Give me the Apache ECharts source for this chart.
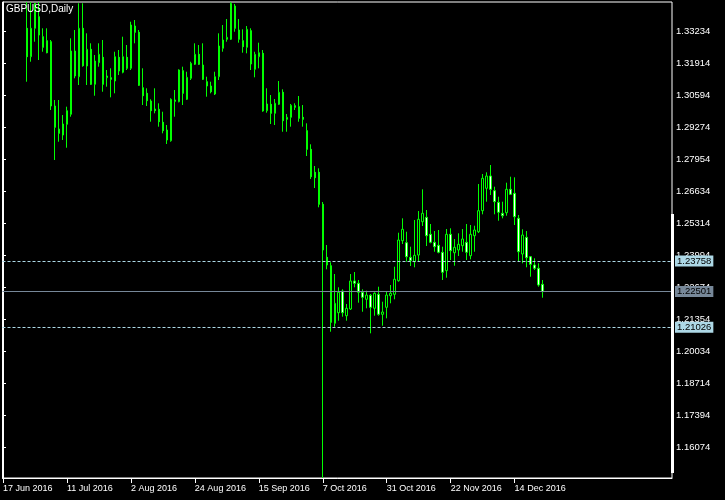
<!DOCTYPE html>
<html>
<head>
<meta charset="utf-8">
<script src="https://cdn.jsdelivr.net/npm/echarts@6/dist/echarts.min.js"></script>
<style>
html,body{margin:0;padding:0;background:#000;}
#chart{width:725px;height:500px;}
</style>
</head>
<body>
<div id="chart"></div>
<script>
// Trading days (Mon-Fri) shown on the time axis, per month of 2016
const monthNames = ['Jun','Jul','Aug','Sep','Oct','Nov','Dec'];
const monthDays = [
  [17,20,21,22,23,24,27,28,29,30],
  [1,4,5,6,7,8,11,12,13,14,15,18,19,20,21,22,25,26,27,28,29],
  [1,2,3,4,5,8,9,10,11,12,15,16,17,18,19,22,23,24,25,26,29,30,31],
  [1,2,5,6,7,8,9,12,13,14,15,16,19,20,21,22,23,26,27,28,29,30],
  [3,4,5,6,7,10,11,12,13,14,17,18,19,20,21,24,25,26,27,28,31],
  [1,2,3,4,7,8,9,10,11,14,15,16,17,18,21,22,23,24,25,28,29,30],
  [1,2,5,6,7,8,9,12,13,14,15,16,19,20,21,22,23]
];
const dates = [];
monthDays.forEach((days, m) => days.forEach(d => dates.push(d + ' ' + monthNames[m] + ' 2016')));

// x-axis tick labels (every 16 bars)
const xTickLabels = ['17 Jun 2016','11 Jul 2016','2 Aug 2016','24 Aug 2016','15 Sep 2016','7 Oct 2016','31 Oct 2016','22 Nov 2016','14 Dec 2016'];
// y-axis tick labels
const yTicks = [1.16074,1.17394,1.18714,1.20034,1.21354,1.22674,1.23994,1.25314,1.26634,1.27954,1.29274,1.30594,1.31914,1.33234];

// Price levels
const levelHigh = 1.23758;
const levelLow = 1.21026;
const bidPrice = 1.22501;

// Daily GBPUSD candles, 27 Jun 2016 .. 23 Dec 2016
const opens = [
1.33357,1.32185,1.33357,1.33835,1.33010,1.32845,1.32804,1.30152,1.29203,1.28955,
1.29397,1.29809,1.32420,1.31360,1.33357,1.31802,1.32490,1.31047,1.31938,1.32160,
1.31319,1.31319,1.31183,1.32160,1.31542,1.32160,1.31707,1.33452,1.33192,1.30906,
1.30675,1.30358,1.30028,1.30015,1.29479,1.29162,1.28720,1.30399,1.30329,1.31608,
1.30428,1.31294,1.31872,1.32284,1.31843,1.31154,1.30977,1.30647,1.31360,1.32532,
1.32903,1.32903,1.34277,1.33287,1.32845,1.32573,1.33258,1.31665,1.32185,1.32325,
1.29958,1.30222,1.29850,1.30222,1.30717,1.29603,1.29685,1.30164,1.30123,1.29685,
1.29133,1.28365,1.27417,1.27417,1.26097,1.23910,1.23564,1.21188,1.21625,1.22520,
1.21501,1.21778,1.22933,1.22838,1.22467,1.22178,1.22343,1.21807,1.22384,1.21559,
1.21848,1.22326,1.22384,1.22945,1.24595,1.24513,1.23910,1.23729,1.24005,1.25379,
1.25560,1.24859,1.24529,1.24405,1.24117,1.23358,1.24859,1.24100,1.24212,1.24389,
1.24529,1.23976,1.24801,1.24966,1.25833,1.26757,1.27264,1.26658,1.26179,1.25725,
1.25750,1.26715,1.26550,1.25519,1.24047,1.24735,1.23935,1.23593,1.23457,1.22797
];
const highs = [
1.34440,1.34440,1.34388,1.34440,1.33357,1.33357,1.32874,1.30399,1.30399,1.29780,
1.30123,1.32944,1.33287,1.34388,1.34388,1.33150,1.32738,1.32255,1.32738,1.32874,
1.31637,1.31707,1.32391,1.32462,1.33010,1.32668,1.33629,1.33699,1.33287,1.31707,
1.30882,1.30428,1.30882,1.30263,1.29916,1.29368,1.30469,1.30812,1.31665,1.31773,
1.31566,1.31979,1.32738,1.32668,1.32738,1.31360,1.31154,1.31566,1.33150,1.33493,
1.33740,1.34440,1.34359,1.33740,1.33315,1.33452,1.33357,1.32391,1.32763,1.32462,
1.30882,1.30605,1.30440,1.31183,1.30840,1.29822,1.30234,1.30263,1.30564,1.30193,
1.29438,1.28572,1.27677,1.27582,1.26192,1.24418,1.23704,1.23222,1.22673,1.22590,
1.21984,1.23222,1.23304,1.22974,1.22590,1.22533,1.22397,1.22467,1.22698,1.22079,
1.22491,1.22768,1.23523,1.24925,1.25519,1.24966,1.24348,1.25449,1.25820,1.26715,
1.25862,1.25284,1.24995,1.25037,1.24348,1.25078,1.25107,1.24665,1.24900,1.25078,
1.25284,1.25243,1.25214,1.26934,1.27347,1.27417,1.27718,1.26823,1.26410,1.26204,
1.26988,1.27235,1.27210,1.25655,1.25065,1.24995,1.23964,1.23869,1.23663,1.22974
];
const lows = [
1.31154,1.31979,1.32804,1.32049,1.32391,1.32325,1.29987,1.27924,1.28679,1.28749,
1.28431,1.29710,1.31294,1.31018,1.31773,1.31018,1.31018,1.30576,1.31773,1.30741,
1.30948,1.30510,1.30675,1.31430,1.31500,1.31637,1.31637,1.32738,1.30977,1.30193,
1.30152,1.29504,1.29850,1.29298,1.29025,1.28584,1.28679,1.29710,1.30304,1.30193,
1.30399,1.31224,1.31843,1.31843,1.31224,1.30535,1.30675,1.30605,1.31224,1.32391,
1.32804,1.32874,1.33216,1.32763,1.32350,1.32325,1.31637,1.31335,1.31707,1.29916,
1.29875,1.29409,1.29368,1.30193,1.29091,1.29091,1.29298,1.29987,1.29504,1.29298,
1.28089,1.27140,1.26769,1.25973,1.14810,1.23415,1.20841,1.21048,1.21295,1.21460,
1.21295,1.21737,1.22673,1.22038,1.21666,1.21807,1.20775,1.21501,1.21501,1.21089,
1.21394,1.22013,1.22178,1.22904,1.24459,1.23729,1.23552,1.23498,1.23729,1.25202,
1.24377,1.24488,1.24141,1.24075,1.22974,1.23069,1.23799,1.23564,1.23964,1.24141,
1.23799,1.23828,1.24141,1.24913,1.25684,1.26204,1.26480,1.25684,1.25420,1.25519,
1.25626,1.26480,1.25243,1.23729,1.23663,1.23498,1.23110,1.23387,1.22698,1.22244
];
const closes = [
1.32185,1.33357,1.34388,1.33080,1.32573,1.32350,1.30152,1.29273,1.29025,1.29409,
1.29958,1.32420,1.31389,1.33357,1.31814,1.32490,1.31047,1.32008,1.32284,1.31047,
1.31389,1.31253,1.32185,1.31595,1.32185,1.31707,1.33493,1.33192,1.31005,1.30576,
1.30370,1.29958,1.29958,1.29504,1.29133,1.28749,1.30428,1.30345,1.31637,1.30675,
1.31335,1.31913,1.32284,1.31872,1.31253,1.30977,1.30741,1.31360,1.32627,1.32874,
1.32985,1.34388,1.33357,1.32903,1.32598,1.33315,1.31884,1.32284,1.32350,1.29945,
1.30234,1.29850,1.30263,1.30717,1.29545,1.29685,1.30180,1.30098,1.29644,1.29603,
1.28365,1.27235,1.27194,1.26097,1.24212,1.23593,1.21229,1.22013,1.22467,1.21625,
1.21807,1.22933,1.22838,1.22467,1.22260,1.22355,1.21848,1.22425,1.21559,1.21654,
1.22355,1.22425,1.23003,1.24624,1.25065,1.23935,1.23770,1.23993,1.25478,1.25725,
1.24801,1.24529,1.24348,1.24117,1.23292,1.24859,1.24183,1.24323,1.24447,1.24665,
1.24117,1.24859,1.25037,1.25833,1.27169,1.27264,1.26715,1.26204,1.25767,1.25626,
1.26715,1.26509,1.25585,1.24141,1.24830,1.23894,1.23622,1.23457,1.22768,1.22501
];

// first candle sits at the date index of 27 Jun 2016
const firstBar = dates.indexOf('27 Jun 2016');
const candleData = opens.map((o, i) => [firstBar + i, o, closes[i], lows[i], highs[i]]);
const xTickValues = xTickLabels.map(l => dates.indexOf(l));

const chart = echarts.init(document.getElementById('chart'), null, {renderer: 'canvas'});
const FONT = 'Liberation Sans';
chart.setOption({
  animation: false,
  backgroundColor: '#000',
  title: {
    text: 'GBPUSD,Daily',
    left: 6, top: 4, padding: 0,
    textStyle: {color: '#fff', fontSize: 10, fontWeight: 'normal', fontFamily: FONT}
  },
  grid: {
    left: 2, top: 2, width: 670, height: 476,
    show: true, borderColor: '#fff', borderWidth: 1, backgroundColor: '#000',
    containLabel: false
  },
  xAxis: {
    type: 'value',
    // half-bar offset so each candle centre falls on a pixel centre
    min: -0.125, max: 167.375,
    splitLine: {show: false},
    axisLine: {show: true, onZero: false, lineStyle: {color: '#fff', width: 1}},
    axisTick: {show: true, customValues: xTickValues, length: 5, lineStyle: {color: '#fff'}},
    axisLabel: {
      customValues: xTickValues,
      formatter: v => dates[Math.round(v)] || '',
      align: 'left', margin: 6,
      color: '#fff', fontSize: 9, fontFamily: FONT
    }
  },
  yAxis: {
    type: 'value',
    position: 'right',
    min: 1.14807, max: 1.34442,
    splitLine: {show: false},
    axisLine: {show: true, lineStyle: {color: '#fff', width: 1}},
    axisTick: {show: true, customValues: yTicks, length: 3, lineStyle: {color: '#fff'}},
    axisLabel: {
      customValues: yTicks,
      formatter: v => v.toFixed(5),
      margin: 4,
      color: '#fff', fontSize: 9.5, fontFamily: FONT
    }
  },
  graphic: [{
    type: 'rect', z: 50,
    shape: {x: 671, y: 214, width: 3, height: 259},
    style: {fill: '#fff'}
  }],
  series: [{
    type: 'candlestick',
    dimensions: ['x', 'open', 'close', 'lowest', 'highest'],
    encode: {x: 'x', y: ['open', 'close', 'lowest', 'highest']},
    data: candleData,
    barWidth: 2,
    clip: true,
    itemStyle: {
      color: '#000000',
      color0: '#ffffff',
      borderColor: '#00ff00',
      borderColor0: '#00ff00',
      borderColorDoji: '#00ff00',
      borderWidth: 1
    },
    markLine: {
      silent: true,
      precision: 5,
      symbol: ['none', 'none'],
      animation: false,
      label: {
        show: true, position: 'end', distance: 3,
        formatter: p => Number(p.value).toFixed(5),
        color: '#000', fontSize: 9.5, fontFamily: FONT,
        padding: [1, 2, 0, 2]
      },
      data: [
        {yAxis: levelHigh, lineStyle: {color: '#add8e6', type: [3, 2], width: 1}, label: {backgroundColor: '#add8e6'}},
        {yAxis: bidPrice, lineStyle: {color: '#778899', type: 'solid', width: 1}, label: {backgroundColor: '#778899'}},
        {yAxis: levelLow, lineStyle: {color: '#add8e6', type: [3, 2], width: 1}, label: {backgroundColor: '#add8e6'}}
      ]
    }
  }]
});
</script>
</body>
</html>
